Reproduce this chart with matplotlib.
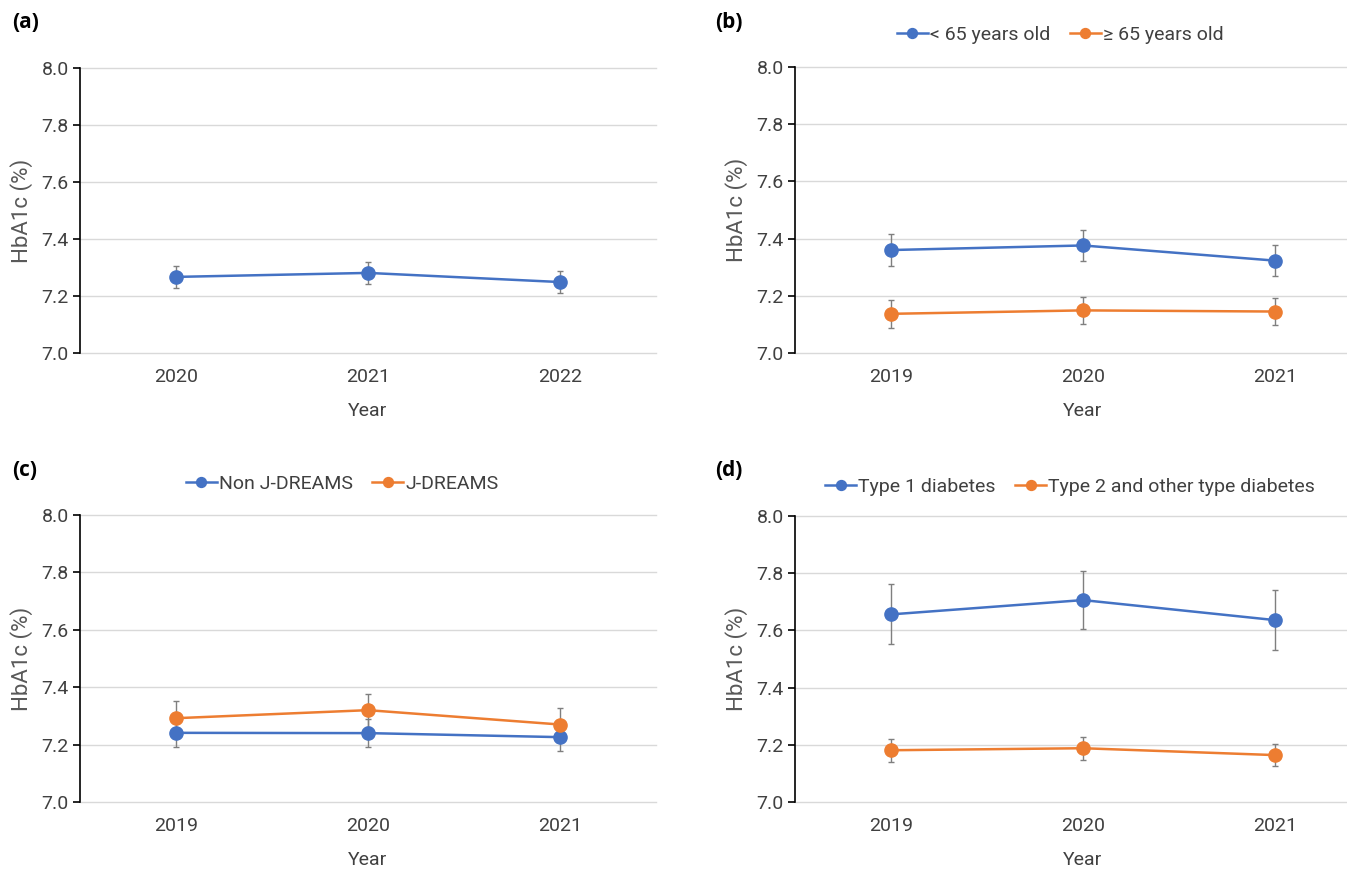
import matplotlib
matplotlib.use("Agg")
import matplotlib.pyplot as plt

plt.rcParams['font.family'] = ['Roboto', 'DejaVu Sans']

# ---- data ----
years_a = ["2020", "2021", "2022"]
years_bcd = ["2019", "2020", "2021"]

a_mean = [7.267, 7.281, 7.249]
a_err = [0.040, 0.038, 0.038]

b_labels = ["< 65 years old", "\u2265 65 years old"]
b_young = [7.360, 7.376, 7.323]
b_young_err = [0.057, 0.055, 0.055]
b_old = [7.137, 7.149, 7.145]
b_old_err = [0.048, 0.047, 0.047]

c_labels = ["Non J-DREAMS", "J-DREAMS"]
c_non = [7.241, 7.240, 7.226]
c_non_err = [0.050, 0.048, 0.048]
c_jd = [7.292, 7.320, 7.270]
c_jd_err = [0.061, 0.058, 0.059]

d_labels = ["Type 1 diabetes", "Type 2 and other type diabetes"]
d_t1 = [7.656, 7.706, 7.636]
d_t1_err = [0.105, 0.101, 0.104]
d_t2 = [7.181, 7.188, 7.164]
d_t2_err = [0.041, 0.040, 0.039]

BLUE = "#4472C4"
ORANGE = "#ED7D31"

W, H = 1347, 869
fig = plt.figure(figsize=(W / 100, H / 100), dpi=100)


def make_ax(left, top, bottom, width=576):
    # pixel coords -> figure fraction
    return fig.add_axes([left / W, 1 - bottom / H, width / W, (bottom - top) / H])


def style(ax, years):
    ax.set_xlim(-0.5, 2.5)
    ax.set_ylim(7.0, 8.0)
    ax.set_yticks([7.0, 7.2, 7.4, 7.6, 7.8, 8.0])
    ax.set_yticklabels(["7.0", "7.2", "7.4", "7.6", "7.8", "8.0"])
    ax.set_xticks(range(len(years)))
    ax.set_xticklabels(years)
    ax.grid(axis='y', color='#d9d9d9', linewidth=1.0)
    for gl in ax.get_ygridlines():
        gl.set_clip_on(False)
    ax.set_axisbelow(True)
    for s in ["top", "right", "bottom"]:
        ax.spines[s].set_visible(False)
    ax.spines["left"].set_color("#000000")
    ax.spines["left"].set_linewidth(1.2)
    ax.tick_params(axis='y', direction='out', length=5, width=1.2, colors='#000000',
                   labelcolor='#404040', labelsize=14, pad=3)
    ax.tick_params(axis='x', length=0, labelcolor='#404040', labelsize=14, pad=11)
    ax.set_xlabel("Year", fontsize=14, color='#404040', labelpad=11)
    ax.set_ylabel("HbA1c (%)", fontsize=16, color='#595959', labelpad=6)


def series(ax, vals, errs, color, label=None):
    x = range(len(vals))
    ax.errorbar(x, vals, yerr=errs, fmt='none', ecolor='#7f7f7f', elinewidth=1.0,
                capsize=2.5, capthick=1.0, zorder=2)
    ax.plot(x, vals, color=color, linewidth=1.8, marker='o', markersize=9.5,
            label=label, zorder=3)


# (a)
ax_a = make_ax(80, 68, 353)
style(ax_a, years_a)
series(ax_a, a_mean, a_err, BLUE)

# (b)
ax_b = make_ax(795, 67, 353)
style(ax_b, years_bcd)
series(ax_b, b_young, b_young_err, BLUE, b_labels[0])
series(ax_b, b_old, b_old_err, ORANGE, b_labels[1])

# (c)
ax_c = make_ax(80, 515, 802)
style(ax_c, years_bcd)
series(ax_c, c_non, c_non_err, BLUE, c_labels[0])
series(ax_c, c_jd, c_jd_err, ORANGE, c_labels[1])

# (d)
ax_d = make_ax(795, 516, 802)
style(ax_d, years_bcd)
series(ax_d, d_t1, d_t1_err, BLUE, d_labels[0])
series(ax_d, d_t2, d_t2_err, ORANGE, d_labels[1])

# legends, placed in figure pixels
for ax, cx, cy in [(ax_b, 1060, 35), (ax_c, 342, 484), (ax_d, 1070, 487)]:
    leg = ax.legend(loc='center', bbox_to_anchor=(cx / W, 1 - cy / H),
                    bbox_transform=fig.transFigure, ncol=2, frameon=False,
                    fontsize=14, handlelength=1.6, handletextpad=0.1,
                    columnspacing=1.0, markerscale=0.75)
    for t in leg.get_texts():
        t.set_color('#404040')

# panel letters
for txt, x, y in [("(a)", 12, 23), ("(b)", 715, 23), ("(c)", 12, 471), ("(d)", 715, 471)]:
    fig.text(x / W, 1 - y / H, txt, fontsize=15, fontweight='bold', ha='left', va='center',
             family=['Open Sans', 'DejaVu Sans'])

fig.savefig("out.png", dpi=100)
